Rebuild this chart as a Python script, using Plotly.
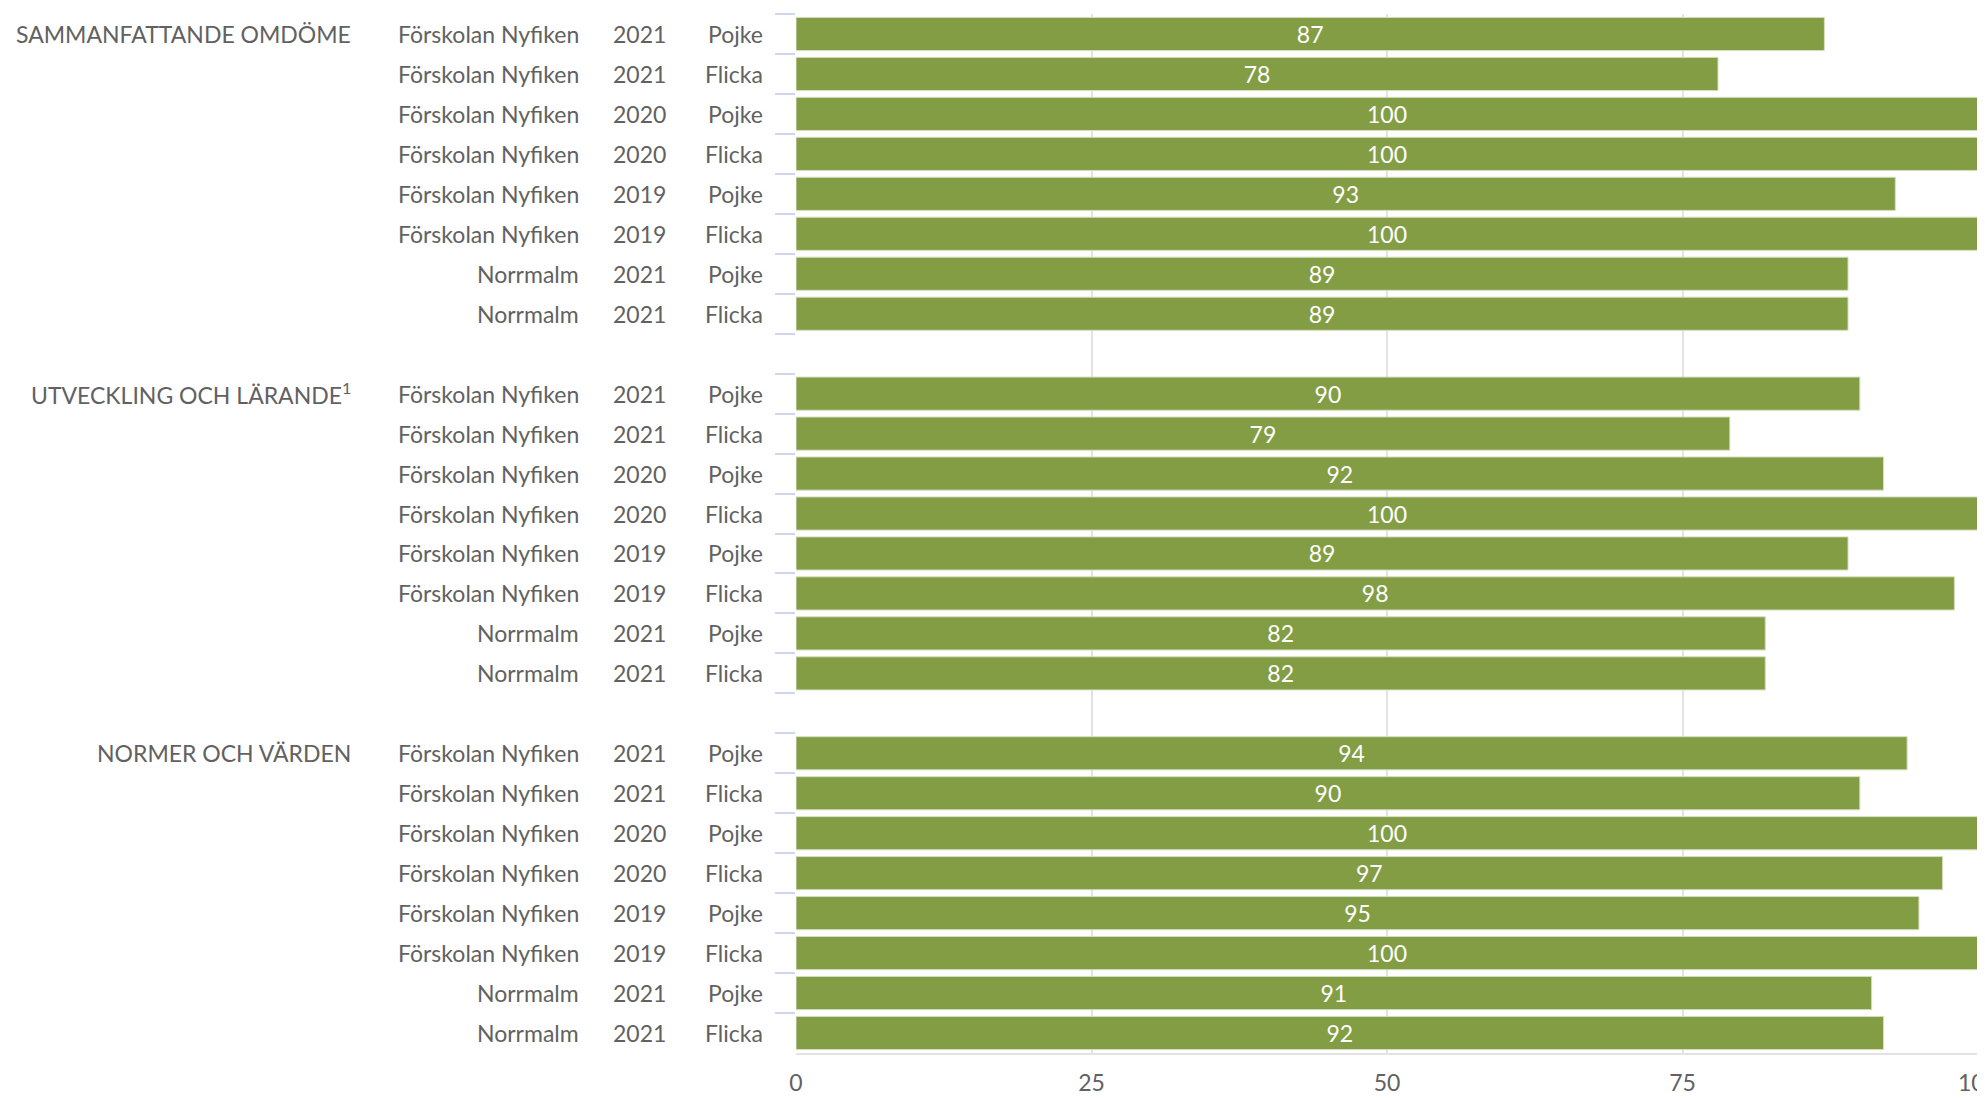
import plotly.graph_objects as go

groups = ["SAMMANFATTANDE OMDÖME", "UTVECKLING OCH LÄRANDE<sup>1</sup>", "NORMER OCH VÄRDEN"]
units = ["Förskolan Nyfiken"] * 6 + ["Norrmalm"] * 2
years = ["2021", "2021", "2020", "2020", "2019", "2019", "2021", "2021"]
genders = ["Pojke", "Flicka", "Pojke", "Flicka", "Pojke", "Flicka", "Pojke", "Flicka"]
values = [
    [87, 78, 100, 100, 93, 100, 89, 89],
    [90, 79, 92, 100, 89, 98, 82, 82],
    [94, 90, 100, 97, 95, 100, 91, 92],
]
x_ticks = [0, 25, 50, 75, 100]

BAR = "#839d45"
TXT = "#616161"
FONT = "Lato"
FS = 23

cats, xs = [], []
for gi, g in enumerate(groups):
    for i in range(len(units)):
        cats.append(f"{gi}|{units[i]}|{years[i]}|{genders[i]}")
        xs.append(values[gi][i])
    if gi < len(groups) - 1:
        cats.append(f"gap{gi}")

bar_cats = [c for c in cats if not c.startswith("gap")]

fig = go.Figure(go.Bar(
    x=xs, y=bar_cats, orientation="h",
    marker=dict(color=BAR, line=dict(color="#d6dec0", width=1)),
    text=[str(v) for v in xs], textposition="inside", insidetextanchor="middle",
    textangle=0, constraintext="none",
    textfont=dict(color="white", size=FS, family=FONT),
    hoverinfo="skip",
))

ann = []
col_x = {"unit": -0.1814, "year": -0.108, "gender": -0.0262, "group": -0.374}
for gi, g in enumerate(groups):
    for i in range(len(units)):
        c = f"{gi}|{units[i]}|{years[i]}|{genders[i]}"
        for key, t in (("unit", units[i]), ("year", years[i]), ("gender", genders[i])):
            ann.append(dict(x=col_x[key], y=c, xref="paper", yref="y", text=t,
                            showarrow=False, xanchor="right", yanchor="middle",
                            font=dict(size=FS, color=TXT, family=FONT)))
        if i == 0:
            ann.append(dict(x=col_x["group"], y=c, xref="paper", yref="y", text=g,
                            showarrow=False, xanchor="right", yanchor="middle",
                            font=dict(size=FS, color=TXT, family=FONT)))

fig.update_layout(
    width=1977, height=1090,
    margin=dict(l=788, r=4, t=6, b=45, autoexpand=False),
    paper_bgcolor="white", plot_bgcolor="white",
    bargap=0.17, showlegend=False,
    annotations=ann,
    shapes=[dict(type="line", xref="x", yref="paper", x0=x_ticks[-1], x1=x_ticks[-1], y0=0, y1=1,
                 line=dict(color="#e3e3e3", width=2), layer="below")],
    xaxis=dict(range=[0, 100.25], tickvals=x_ticks, showgrid=True, gridcolor="#e3e3e3", gridwidth=2,
               zeroline=False, showline=True, linecolor="#e3e3e3", linewidth=2, automargin=False,
               ticks="outside", ticklen=8, tickcolor="rgba(0,0,0,0)", ticklabeloverflow="allow",
               tickfont=dict(size=FS, color=TXT, family=FONT), fixedrange=True),
    yaxis=dict(type="category", categoryorder="array", categoryarray=cats, automargin=False,
               range=[len(cats) - 0.5, -0.5], showticklabels=False, showgrid=False,
               ticks="outside", ticklen=20, tickwidth=2, tickcolor="#cdd6ec",
               tickson="boundaries", showline=False, zeroline=False),
)

fig.write_html("out.html")
